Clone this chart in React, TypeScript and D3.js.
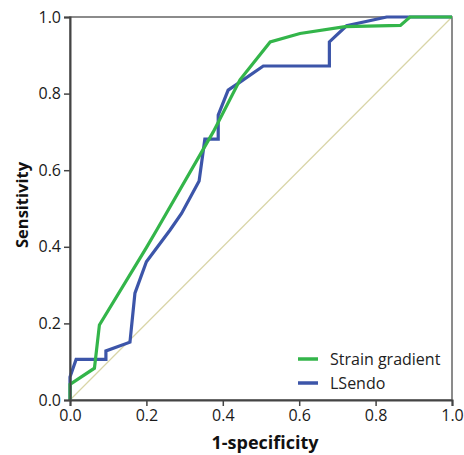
import React, { useEffect, useRef } from 'react';
import * as d3 from 'd3';

// ROC curves, [1-specificity, sensitivity]
const strainGradient: [number, number][] = [
  [0, 0], [0, 0.041], [0.064, 0.083], [0.077, 0.196], [0.2, 0.398], [0.227, 0.444],
  [0.375, 0.7], [0.445, 0.836], [0.524, 0.935], [0.602, 0.957], [0.72, 0.975],
  [0.865, 0.978], [0.89, 1.0], [1, 1],
];
const lsendo: [number, number][] = [
  [0, 0], [0, 0.06], [0.016, 0.106], [0.094, 0.106], [0.094, 0.128], [0.157, 0.151],
  [0.17, 0.279], [0.2, 0.361], [0.262, 0.444], [0.292, 0.487], [0.338, 0.572],
  [0.353, 0.681], [0.388, 0.681], [0.388, 0.744], [0.414, 0.809], [0.445, 0.83],
  [0.506, 0.872], [0.679, 0.872], [0.679, 0.935], [0.724, 0.977], [0.829, 1.0], [1, 1],
];
const ticks = [0, 0.2, 0.4, 0.6, 0.8, 1.0];
const series = [
  { name: 'Strain gradient', color: '#33b54a', values: strainGradient },
  { name: 'LSendo', color: '#3c55a9', values: lsendo },
];

const App = () => {
  const svgRef = useRef<SVGSVGElement>(null);

  useEffect(() => {
    const svg = d3.select(svgRef.current);
    svg.selectAll('*').remove();
    const width = 464;
    const height = 455;
    const margin = { top: 17, right: 12, bottom: 55, left: 70 };
    const innerWidth = width - margin.left - margin.right;
    const innerHeight = height - margin.top - margin.bottom;
    const font = "'Open Sans', 'Noto Sans', sans-serif";

    const x = d3.scaleLinear().domain([0, 1]).range([0, innerWidth]);
    const y = d3.scaleLinear().domain([0, 1]).range([innerHeight, 0]);

    const g = svg.append('g').attr('transform', `translate(${margin.left},${margin.top})`);

    // frame
    g.append('rect')
      .attr('width', innerWidth)
      .attr('height', innerHeight)
      .attr('fill', 'none')
      .attr('stroke', '#666')
      .attr('stroke-width', 1.5);

    // reference diagonal
    g.append('line')
      .attr('x1', x(0)).attr('y1', y(0))
      .attr('x2', x(1)).attr('y2', y(1))
      .attr('stroke', '#d9d5a7')
      .attr('stroke-width', 1.2);

    const line = d3.line<[number, number]>().x(d => x(d[0])).y(d => y(d[1]));

    // blue underneath, green on top
    [...series].reverse().forEach(s => {
      g.append('path')
        .datum(s.values)
        .attr('d', line)
        .attr('fill', 'none')
        .attr('stroke', s.color)
        .attr('stroke-width', 3.2)
        .attr('stroke-linejoin', 'miter');
    });

    const xAxis = g.append('g')
      .attr('transform', `translate(0,${innerHeight})`)
      .call(d3.axisBottom(x).tickValues(ticks).tickFormat(d3.format('.1f')).tickSize(6).tickPadding(4));
    const yAxis = g.append('g')
      .call(d3.axisLeft(y).tickValues(ticks).tickFormat(d3.format('.1f')).tickSize(6).tickPadding(3));

    [xAxis, yAxis].forEach(a => {
      a.select('.domain').attr('stroke', '#444').attr('stroke-width', 2);
      a.selectAll('.tick line').attr('stroke', '#444').attr('stroke-width', 1.5);
      a.selectAll('.tick text')
        .attr('fill', '#1a1a1a')
        .style('font-family', font)
        .style('font-size', '16px');
    });

    // axis titles
    svg.append('text')
      .attr('x', margin.left + innerWidth / 2 + 4)
      .attr('y', 449)
      .attr('text-anchor', 'middle')
      .style('font-family', font)
      .style('font-size', '18px')
      .style('font-weight', 'bold')
      .attr('fill', '#111')
      .text('1-specificity');

    svg.append('text')
      .attr('transform', `translate(28,205) rotate(-90)`)
      .attr('text-anchor', 'middle')
      .style('font-family', font)
      .style('font-size', '16.5px')
      .style('font-weight', 'bold')
      .attr('fill', '#111')
      .text('Sensitivity');

    // legend
    const legend = svg.append('g').attr('transform', 'translate(298,359)');
    series.forEach((s, i) => {
      const row = legend.append('g').attr('transform', `translate(0,${i * 24})`);
      row.append('line')
        .attr('x1', 0).attr('x2', 20)
        .attr('stroke', s.color)
        .attr('stroke-width', 3.5);
      row.append('text')
        .attr('x', 32)
        .attr('y', 5.5)
        .style('font-family', font)
        .style('font-size', '16px')
        .attr('fill', '#222')
        .text(s.name);
    });
  }, []);

  return (
    <div style={{ position: 'absolute', left: 0, top: 0, width: 464, height: 455, background: '#fff' }}>
      <svg ref={svgRef} width={464} height={455}></svg>
    </div>
  );
};

export default App;
